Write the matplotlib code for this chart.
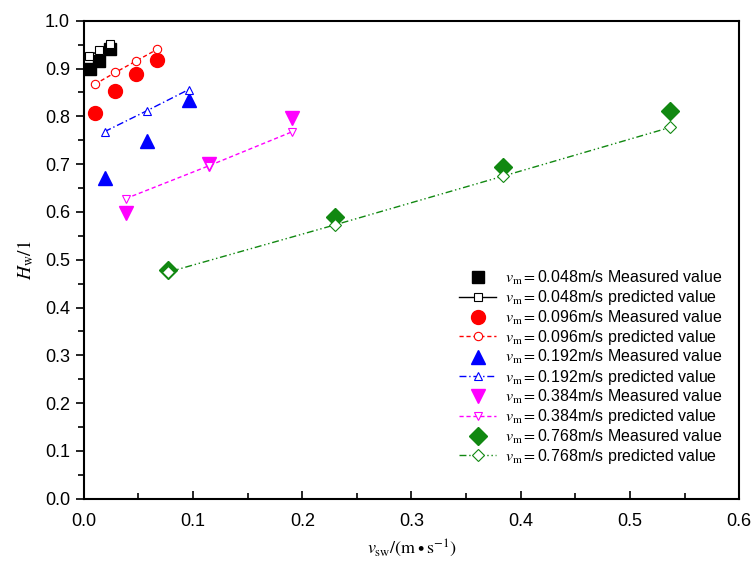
import numpy as np
import matplotlib.pyplot as plt

plt.rcParams['font.family'] = ['Liberation Sans', 'DejaVu Sans']
plt.rcParams['mathtext.fontset'] = 'stix'

# measured / predicted data per mixture velocity
speeds = ['0.048', '0.096', '0.192', '0.384', '0.768']

x_meas = [[0.006, 0.014, 0.024],
          [0.010, 0.029, 0.048, 0.067],
          [0.019, 0.058, 0.096],
          [0.0385, 0.115, 0.191],
          [0.077, 0.230, 0.384, 0.537]]
y_meas = [[0.900, 0.915, 0.940],
          [0.806, 0.853, 0.888, 0.918],
          [0.671, 0.748, 0.835],
          [0.598, 0.700, 0.796],
          [0.479, 0.590, 0.693, 0.811]]

x_pred = [[0.005, 0.014, 0.024],
          [0.010, 0.029, 0.048, 0.067],
          [0.019, 0.058, 0.096],
          [0.0385, 0.115, 0.191],
          [0.077, 0.230, 0.384, 0.537]]
y_pred = [[0.926, 0.938, 0.952],
          [0.867, 0.892, 0.916, 0.940],
          [0.768, 0.812, 0.856],
          [0.628, 0.697, 0.768],
          [0.474, 0.573, 0.675, 0.777]]

colors = ['black', '#ff0000', '#0000ff', '#ff00ff', '#118811']
markers = ['s', 'o', '^', 'v', 'D']
linestyles = ['-', (0, (3, 2)), (0, (5, 2, 1, 2)), (0, (3, 2)), (0, (5, 2, 1, 2, 1, 2))]
msize = [9, 10, 10, 10, 9]

fig = plt.figure(figsize=(7.55, 5.61), dpi=100)
ax = fig.add_axes([0.111, 0.111, 0.868, 0.852])

for i in range(5):
    pref = r'$v_{\mathrm{m}}=$'
    ax.plot(x_meas[i], y_meas[i], linestyle='none', marker=markers[i],
            color=colors[i], markersize=msize[i],
            label=pref + speeds[i] + 'm/s Measured value', zorder=3)
    ax.plot(x_pred[i], y_pred[i], linestyle=linestyles[i], linewidth=1,
            marker=markers[i], markerfacecolor='white',
            markeredgecolor=colors[i], color=colors[i], markersize=6,
            markeredgewidth=0.8,
            label=pref + speeds[i] + 'm/s predicted value', zorder=4)

ax.set_xlim(0, 0.6)
ax.set_ylim(0, 1.0)
ax.set_xticks(np.arange(0, 0.61, 0.1))
ax.set_yticks(np.arange(0, 1.01, 0.1))
ax.set_xticks(np.arange(0.05, 0.6, 0.1), minor=True)
ax.set_yticks(np.arange(0.05, 1.0, 0.1), minor=True)
ax.xaxis.set_major_formatter(plt.FormatStrFormatter('%.1f'))
ax.yaxis.set_major_formatter(plt.FormatStrFormatter('%.1f'))
ax.tick_params(axis='x', which='both', direction='in', labelsize=13, pad=10)
ax.tick_params(axis='y', which='both', direction='out', labelsize=13, pad=4)
ax.tick_params(which='major', length=6, width=1.2)
ax.tick_params(which='minor', length=4, width=1.2)
for s in ax.spines.values():
    s.set_linewidth(1.5)

ax.set_xlabel(r'$v_{\mathrm{sw}}/(\mathrm{m}\bullet\mathrm{s}^{-1})$', fontsize=13, labelpad=6)
ax.set_ylabel(r'$H_{\mathrm{w}}/1$', fontsize=14, labelpad=6)

ax.legend(loc='lower right', bbox_to_anchor=(0.985, 0.055), frameon=False,
          fontsize=11.5, handlelength=2.3, labelspacing=0.08, borderaxespad=0,
          handletextpad=0.6)

fig.savefig('out.png', dpi=100)
